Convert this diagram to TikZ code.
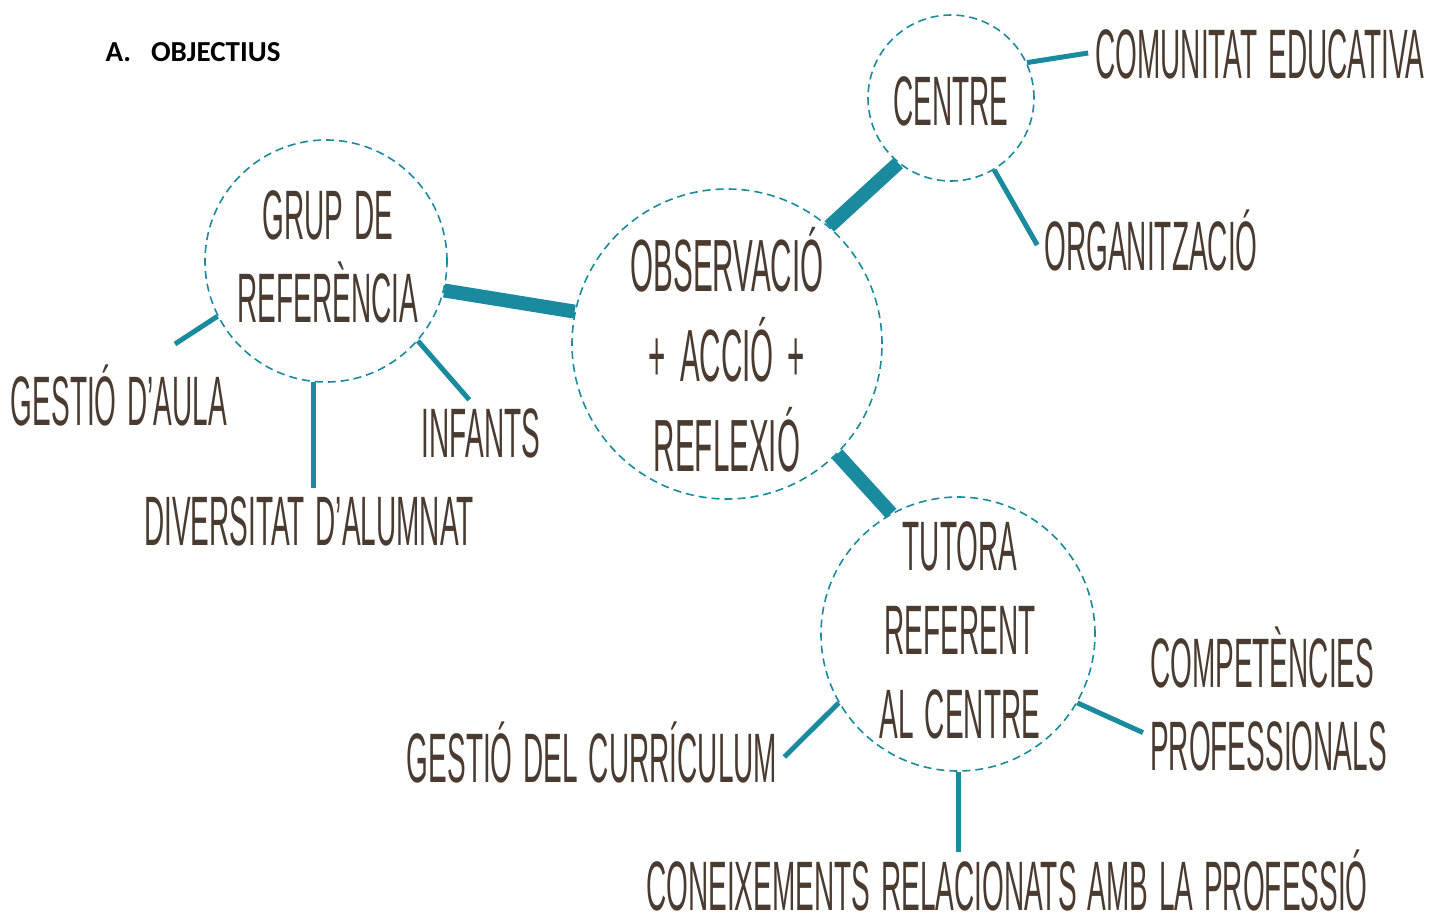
\documentclass[tikz,border=0pt]{standalone}
\usepackage{fontspec}
\newfontfamily\handfont[FakeStretch=0.40, WordSpace=1.4]{Liberation Sans}
\newfontfamily\headfont{Carlito}
\usetikzlibrary{arrows, shapes}
\definecolor{mapteal}{HTML}{1A8A9F}
\definecolor{mapbrown}{HTML}{4A3B31}

\begin{document}
\begin{tikzpicture}[x=1pt, y=-1pt]
    \tikzstyle{hub} = [shape=circle, draw=mapteal, line width=1.6pt, dash pattern=on 8pt off 5pt, inner sep=0pt]
    \tikzstyle{word} = [text=mapbrown, font=\handfont\fontsize{70}{83}\selectfont, inner sep=7pt]
    \tikzstyle{oneline} = [word, text height=50pt, text depth=0pt]
    \tikzstyle{lines} = [word, align=center]
    \tikzstyle{spoke} = [draw=mapteal, line width=14pt]
    \tikzstyle{twig} = [draw=mapteal, line width=5pt]
    \useasboundingbox (0,0) rectangle (1435,919);
    \node (title) [anchor=base west, font=\headfont\bfseries\fontsize{29}{34}\selectfont] at (102,61) {A.\hspace{20pt}OBJECTIUS};
    \node (centre) [hub, minimum size=166pt] at (951,98) {};
    \node (grup) [hub, minimum size=242pt] at (326,261) {};
    \node (obs) [hub, minimum size=310pt] at (727,344) {};
    \node (tutora) [hub, minimum size=274pt] at (958,634) {};
    \node (centretxt) [oneline] at (951,100) {CENTRE};
    \node (gruptxt) [lines] at (328,257) {GRUP DE\\REFERÈNCIA};
    \node (obstxt) [lines, font=\handfont\fontsize{74}{90}\selectfont] at (727,350) {OBSERVACIÓ\\+\hspace{14pt}ACCIÓ\hspace{14pt}+\\REFLEXIÓ};
    \node (tutoratxt) [lines, font=\handfont\fontsize{70}{84}\selectfont] at (960,630) {TUTORA\\REFERENT\\AL CENTRE};
    \node (comunitat) [oneline] at (1260,53) {COMUNITAT EDUCATIVA};
    \node (organitzacio) [oneline] at (1151,245) {ORGANITZACIÓ};
    \node (gaula) [oneline] at (119,400) {GESTIÓ D’AULA};
    \node (infants) [oneline] at (481,432) {INFANTS};
    \node (divers) [oneline] at (309,520) {DIVERSITAT D’ALUMNAT};
    \node (curric) [oneline] at (592,757) {GESTIÓ DEL CURRÍCULUM};
    \node (compet) [lines, align=left, anchor=west] at (1143,699) {COMPETÈNCIES\\PROFESSIONALS};
    \node (coneix) [oneline, inner ysep=2pt] at (1007,885) {CONEIXEMENTS RELACIONATS AMB LA PROFESSIÓ};
    \coordinate (gaulaend) at (175,344);
      \draw [spoke] (grup.-14) -- (obs.168);
      \draw [spoke] (obs.49) -- (centre.231);
      \draw [spoke] (obs.-45) -- (tutora.119);
      \draw [twig] (centre.25) -- (comunitat.west);
      \draw [twig] (centre.-59) -- (organitzacio.west);
      \draw [twig] (grup.207) -- (gaulaend);
      \draw [twig] (grup.264) -- (grup.264 |- divers.north);
      \draw [twig] (grup.-41) -- (infants.110);
      \draw [twig] (tutora.210) -- (curric.east);
      \draw [twig] (tutora.-30) -- (compet.195);
      \draw [twig] (tutora.south) -- ([yshift=6pt]tutora.south |- coneix.north);
\end{tikzpicture}
\end{document}
